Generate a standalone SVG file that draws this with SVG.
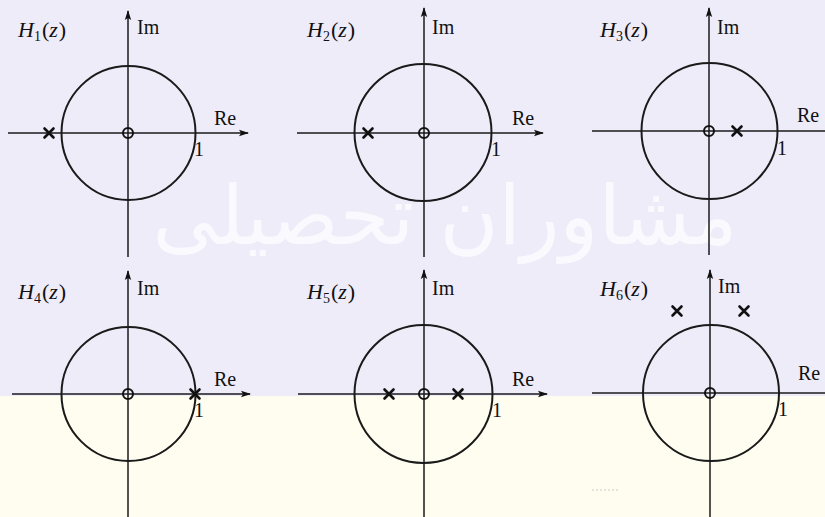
<svg xmlns="http://www.w3.org/2000/svg" width="825" height="517" viewBox="0 0 825 517">
<defs>
<marker id="arr" viewBox="0 0 10 8" refX="9" refY="4" markerWidth="10" markerHeight="8" markerUnits="userSpaceOnUse" orient="auto">
<path d="M0,0.8 L10,4 L0,7.2 L2,4 Z" fill="#111"/>
</marker>
<g id="pole"><path d="M-4.5,-4.5 L4.5,4.5 M-4.5,4.5 L4.5,-4.5" stroke="#111" stroke-width="2.6" stroke-linecap="round"/></g>
</defs>
<style>
.ax{stroke:#1a1a1a;stroke-width:1.5;fill:none}
.uc{stroke:#1a1a1a;stroke-width:2;fill:none}
.zero{stroke:#111;stroke-width:2;fill:none}
.lbl{font-family:"Liberation Serif","DejaVu Serif",serif;font-size:20px;fill:#111}
.h{font-family:"Liberation Serif","DejaVu Serif",serif;font-size:22px;fill:#111}
.it{font-style:italic}
.sub{font-size:14px}
.wm{font-family:"DejaVu Sans","Noto Sans",sans-serif;fill:#ffffff;opacity:0.7}
</style>
<rect x="0" y="0" width="825" height="396" fill="#efecfa"/>
<rect x="0" y="396" width="825" height="121" fill="#fefdf0"/>
<g id="watermark">
<text class="wm" x="445" y="244" font-size="82" text-anchor="middle" textLength="585" lengthAdjust="spacingAndGlyphs">مشاوران تحصیلی</text>
</g>
<path d="M592,490 H620" stroke="#bbb" stroke-width="0.8" stroke-dasharray="2,2"/>

<g id="panel-H1" transform="translate(128,133)">
<line class="ax" x1="-120" y1="0" x2="120" y2="0" marker-end="url(#arr)"/>
<line class="ax" x1="0" y1="124" x2="0" y2="-122" marker-end="url(#arr)"/>
<circle class="uc" cx="0.5" cy="0" r="67"/>
<circle class="zero" cx="0" cy="0" r="5"/>
<use href="#pole" x="-79" y="0"/>
<text class="h" x="-110" y="-96"><tspan class="it">H</tspan><tspan class="sub" dy="4">1</tspan><tspan dy="-4" dx="1">(</tspan><tspan class="it">z</tspan><tspan dx="1">)</tspan></text>
<text class="lbl" x="9" y="-99">Im</text>
<text class="lbl" x="86" y="-8">Re</text>
<text class="lbl" x="66" y="23">1</text>
</g>

<g id="panel-H2" transform="translate(424,133)">
<line class="ax" x1="-127" y1="0" x2="119" y2="0" marker-end="url(#arr)"/>
<line class="ax" x1="0" y1="124" x2="0" y2="-125" marker-end="url(#arr)"/>
<circle class="uc" cx="-1" cy="-0.5" r="68.5"/>
<circle class="zero" cx="0" cy="0" r="5"/>
<use href="#pole" x="-56" y="0"/>
<text class="h" x="-117" y="-96"><tspan class="it">H</tspan><tspan class="sub" dy="4">2</tspan><tspan dy="-4" dx="1">(</tspan><tspan class="it">z</tspan><tspan dx="1">)</tspan></text>
<text class="lbl" x="8" y="-99">Im</text>
<text class="lbl" x="88" y="-8">Re</text>
<text class="lbl" x="67" y="23">1</text>
</g>

<g id="panel-H3" transform="translate(709,131)">
<line class="ax" x1="-117" y1="0" x2="125" y2="0" marker-end="url(#arr)"/>
<line class="ax" x1="0" y1="124" x2="0" y2="-123" marker-end="url(#arr)"/>
<circle class="uc" cx="0.5" cy="0" r="68"/>
<circle class="zero" cx="0" cy="0" r="5"/>
<use href="#pole" x="28" y="0"/>
<text class="h" x="-109" y="-94"><tspan class="it">H</tspan><tspan class="sub" dy="4">3</tspan><tspan dy="-4" dx="1">(</tspan><tspan class="it">z</tspan><tspan dx="1">)</tspan></text>
<text class="lbl" x="8" y="-97">Im</text>
<text class="lbl" x="88" y="-9">Re</text>
<text class="lbl" x="68" y="24">1</text>
</g>

<g id="panel-H4" transform="translate(128,394)">
<line class="ax" x1="-116" y1="0" x2="122" y2="0" marker-end="url(#arr)"/>
<line class="ax" x1="0" y1="125" x2="0" y2="-123" marker-end="url(#arr)"/>
<circle class="uc" cx="0.5" cy="0" r="67"/>
<circle class="zero" cx="0" cy="0" r="5"/>
<use href="#pole" x="67" y="0"/>
<text class="h" x="-110" y="-95"><tspan class="it">H</tspan><tspan class="sub" dy="4">4</tspan><tspan dy="-4" dx="1">(</tspan><tspan class="it">z</tspan><tspan dx="1">)</tspan></text>
<text class="lbl" x="9" y="-99">Im</text>
<text class="lbl" x="86" y="-8">Re</text>
<text class="lbl" x="66" y="23">1</text>
</g>

<g id="panel-H5" transform="translate(424,394)">
<line class="ax" x1="-126" y1="0" x2="123" y2="0" marker-end="url(#arr)"/>
<line class="ax" x1="0" y1="125" x2="0" y2="-124" marker-end="url(#arr)"/>
<circle class="uc" cx="-0.5" cy="0" r="69"/>
<circle class="zero" cx="0" cy="0" r="5"/>
<use href="#pole" x="-35" y="0"/>
<use href="#pole" x="34" y="0"/>
<text class="h" x="-117" y="-95"><tspan class="it">H</tspan><tspan class="sub" dy="4">5</tspan><tspan dy="-4" dx="1">(</tspan><tspan class="it">z</tspan><tspan dx="1">)</tspan></text>
<text class="lbl" x="8" y="-99">Im</text>
<text class="lbl" x="88" y="-8">Re</text>
<text class="lbl" x="68" y="23">1</text>
</g>

<g id="panel-H6" transform="translate(710,393)">
<line class="ax" x1="-118" y1="0" x2="124" y2="0" marker-end="url(#arr)"/>
<line class="ax" x1="0" y1="126" x2="0" y2="-123" marker-end="url(#arr)"/>
<circle class="uc" cx="1" cy="0" r="68"/>
<circle class="zero" cx="0" cy="0" r="5"/>
<use href="#pole" x="-33" y="-82"/>
<use href="#pole" x="34" y="-82"/>
<text class="h" x="-110" y="-97"><tspan class="it">H</tspan><tspan class="sub" dy="4">6</tspan><tspan dy="-4" dx="1">(</tspan><tspan class="it">z</tspan><tspan dx="1">)</tspan></text>
<text class="lbl" x="8" y="-100">Im</text>
<text class="lbl" x="88" y="-13">Re</text>
<text class="lbl" x="68" y="23">1</text>
</g>
</svg>
